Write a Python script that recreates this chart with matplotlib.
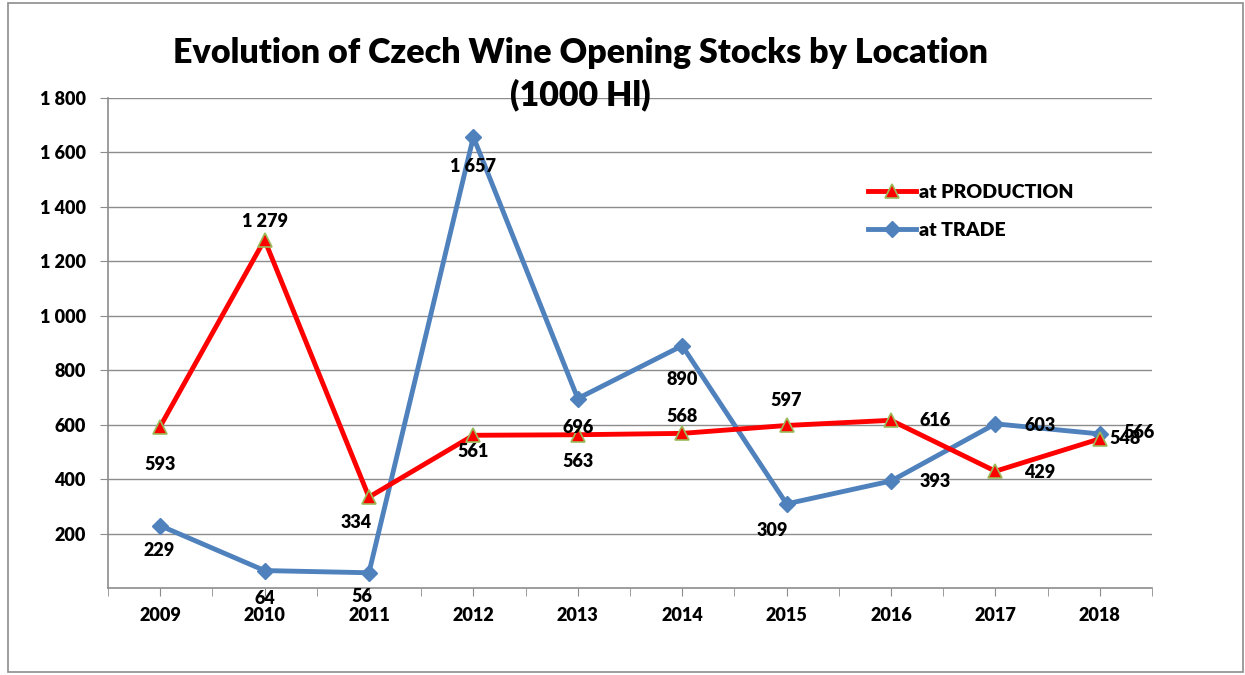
import matplotlib.pyplot as plt
from matplotlib.patches import Rectangle
from matplotlib.ticker import FuncFormatter

plt.rcParams['font.family'] = ['Lato', 'DejaVu Sans']
plt.rcParams['font.weight'] = 'heavy'

years = ['2009', '2010', '2011', '2012', '2013', '2014', '2015', '2016', '2017', '2018']
production = [593, 1279, 334, 561, 563, 568, 597, 616, 429, 548]
trade = [229, 64, 56, 1657, 696, 890, 309, 393, 603, 566]

# label offsets (points) for each data label
prod_off = [(0, -27), (0, 13), (-9, -18), (0, -12), (0, -19), (0, 12), (0, 18),
            (32, 0), (32, -1), (18, 0)]
trade_off = [(-1, -18), (0, -20), (-5, -17), (0, -21), (0, -21), (0, -24), (-10, -19),
             (32, 0), (32, -1), (28, 1)]

fig = plt.figure(figsize=(12.45, 6.75), dpi=100)
fig.patches.append(Rectangle((0.0065, 0.004), 0.992, 0.991, transform=fig.transFigure,
                             fill=False, edgecolor='#8c8c8c', linewidth=1.2))
ax = fig.add_axes([0.0867, 0.1289, 0.8386, 0.7259])

x = list(range(len(years)))
ax.plot(x, trade, color='#4F81BD', linewidth=3.5, marker='D', markersize=8,
        markerfacecolor='#4F81BD', markeredgecolor='#4F81BD', label='at TRADE', zorder=3)
ax.plot(x, production, color='#FF0000', linewidth=3.5, marker='^', markersize=10,
        markerfacecolor='#FF0000', markeredgecolor='#9BBB59', markeredgewidth=1.2,
        label='at PRODUCTION', zorder=4)

def fmt(v):
    return f'{v:,}'.replace(',', ' ')

for i, v in enumerate(production):
    ax.annotate(fmt(v), (i, v), xytext=prod_off[i], textcoords='offset points',
                ha='center', va='center', fontsize=13, fontweight='heavy', zorder=5)
for i, v in enumerate(trade):
    ax.annotate(fmt(v), (i, v), xytext=trade_off[i], textcoords='offset points',
                ha='center', va='center', fontsize=13, fontweight='heavy', zorder=5)

ax.set_xlim(-0.5, len(years) - 0.5)
ax.set_ylim(0, 1800)
ax.set_yticks(range(200, 1801, 200))
ax.yaxis.set_major_formatter(FuncFormatter(lambda v, p: fmt(int(v))))
ax.set_xticks(x)
ax.set_xticklabels(years)
ax.set_xticks([i - 0.5 for i in range(len(years) + 1)], minor=True)
ax.grid(axis='y', color='#8c8c8c', linewidth=1)
ax.set_axisbelow(True)
for s in ['top', 'right']:
    ax.spines[s].set_visible(False)
for s in ['left', 'bottom']:
    ax.spines[s].set_color('#8c8c8c')
    ax.spines[s].set_linewidth(1.2)
ax.tick_params(axis='y', length=6, color='#8c8c8c', labelsize=13, pad=10)
ax.tick_params(axis='x', which='both', length=6, color='#8c8c8c', labelsize=13, pad=8)
for t in ax.get_xticklabels() + ax.get_yticklabels():
    t.set_fontweight('heavy')

h, l = ax.get_legend_handles_labels()
leg = ax.legend(h[::-1], l[::-1], loc='upper left', bbox_to_anchor=(0.711, 0.861), frameon=False,
                prop={'size': 14, 'weight': 'heavy'}, handlelength=2.5, handletextpad=0.15,
                labelspacing=1.08)

fig.text(0.466, 0.89, 'Evolution of Czech Wine Opening Stocks by Location\n(1000 Hl)',
         ha='center', va='center', fontsize=24.5, fontweight='heavy', linespacing=1.35)

fig.savefig('out.png', dpi=100)
